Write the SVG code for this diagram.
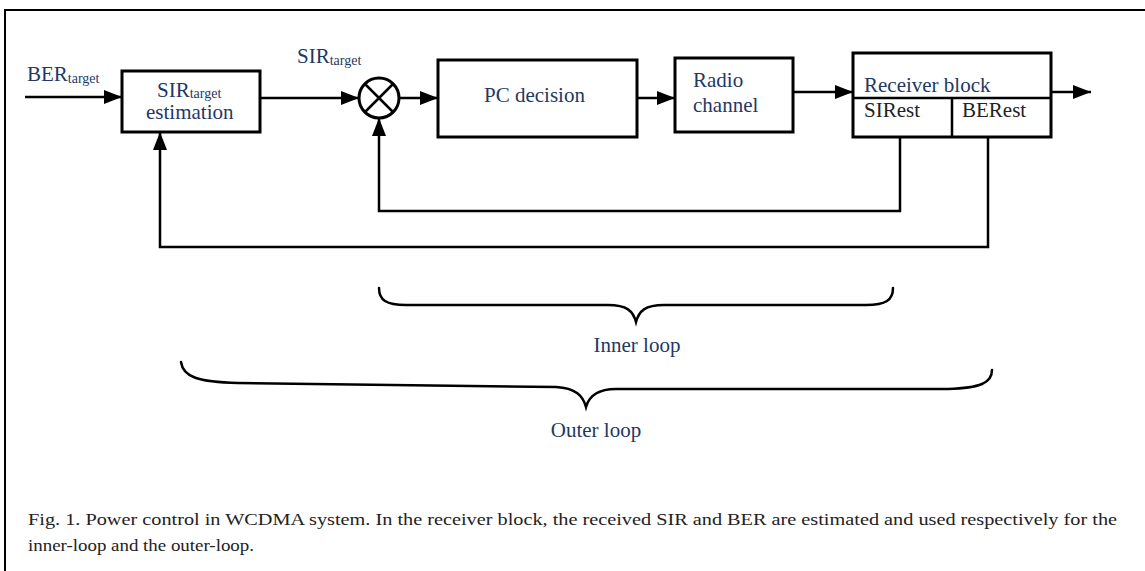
<svg xmlns="http://www.w3.org/2000/svg" width="1145" height="571" viewBox="0 0 1145 571">
<style>
.box{fill:none;stroke:#000;stroke-width:3}
.ln{fill:none;stroke:#000;stroke-width:2.5}
.br{fill:none;stroke:#000;stroke-width:2.5;stroke-linecap:round}
text{font-family:"Liberation Serif",Tinos,"Times New Roman",Times,serif}
.lbl{font-size:21px;fill:#1f3864}
.sub{font-size:14px}
.dk{font-size:21px;fill:#222}
.cap{font-size:16px;fill:#222}
</style>
<defs>
<marker id="ah" markerUnits="userSpaceOnUse" markerWidth="20" markerHeight="16" refX="18" refY="7" orient="auto">
<path d="M0,0 L18,7 L0,14 Z" fill="#000"/>
</marker>
</defs>
<rect width="1145" height="571" fill="#fff"/>
<path d="M5,571 V10 H1145" fill="none" stroke="#000" stroke-width="2"/>

<g id="ber-label">
<text class="lbl" x="27" y="81" font-family="Liberation Serif, serif">BER<tspan class="sub" dy="2">target</tspan></text>
</g>
<g id="sir-estimation">
<rect class="box" x="122" y="71" width="138" height="61"/>
<text class="lbl" x="157" y="97" font-family="Liberation Serif, serif">SIR<tspan class="sub" dy="1">target</tspan></text>
<text class="lbl" x="146" y="119" font-family="Liberation Serif, serif">estimation</text>
</g>
<g id="sir-target-label">
<text class="lbl" x="297" y="63" font-family="Liberation Serif, serif">SIR<tspan class="sub" dy="2">target</tspan></text>
</g>
<g id="summer">
<circle cx="379" cy="98" r="20" fill="none" stroke="#000" stroke-width="3"/>
<path d="M365,84 L393,112 M393,84 L365,112" stroke="#000" stroke-width="2.5"/>
</g>
<g id="pc-decision">
<rect class="box" x="438" y="60" width="199" height="77"/>
<text class="lbl" x="484" y="102" font-family="Liberation Serif, serif">PC decision</text>
</g>
<g id="radio-channel">
<rect class="box" x="675" y="58" width="118" height="74"/>
<text class="lbl" x="693" y="87" font-family="Liberation Serif, serif">Radio</text>
<text class="lbl" x="693" y="112" font-family="Liberation Serif, serif">channel</text>
</g>
<g id="receiver-block">
<rect class="box" x="853" y="53" width="198" height="84"/>
<path d="M853,98 H1051 M952,98 V137" stroke="#000" stroke-width="2.5"/>
<text class="lbl" x="864" y="92" font-family="Liberation Serif, serif">Receiver block</text>
<text class="dk" x="864" y="117" font-family="Liberation Serif, serif">SIRest</text>
<text class="dk" x="962" y="117" font-family="Liberation Serif, serif">BERest</text>
</g>

<g id="connectors">
<path class="ln" d="M25,97 H122" marker-end="url(#ah)"/>
<path class="ln" d="M260,98 H359" marker-end="url(#ah)"/>
<path class="ln" d="M399,98 H438" marker-end="url(#ah)"/>
<path class="ln" d="M637,98 H675" marker-end="url(#ah)"/>
<path class="ln" d="M793,92 H853" marker-end="url(#ah)"/>
<path class="ln" d="M1051,92 H1091" marker-end="url(#ah)"/>
<path class="ln" d="M900,137 V211 H379 V118" marker-end="url(#ah)"/>
<path class="ln" d="M988,137 V247 H160 V132" marker-end="url(#ah)"/>
</g>

<g id="inner-loop">
<path class="br" d="M379,288 C379,300 386,305 406,305 L608,305 C627,305 633,311 636,322 C639,311 645,305 664,305 L866,305 C886,305 893,300 893,288"/>
<text class="lbl" x="637" y="352" text-anchor="middle" font-family="Liberation Serif, serif">Inner loop</text>
</g>
<g id="outer-loop">
<path class="br" d="M181,362 C183,377 198,382 238,383 L556,387 C576,388 583,396 586,407 C589,396 597,389 616,389 L948,389 C980,388 992,383 992,370"/>
<text class="lbl" x="596" y="437" text-anchor="middle" font-family="Liberation Serif, serif">Outer loop</text>
</g>

<g id="caption">
<text class="cap" x="28" y="525" textLength="1089" lengthAdjust="spacingAndGlyphs" font-family="Liberation Serif, serif">Fig. 1. Power control in WCDMA system. In the receiver block, the received SIR and BER are estimated and used respectively for the</text>
<text class="cap" x="28" y="551" textLength="226" lengthAdjust="spacingAndGlyphs" font-family="Liberation Serif, serif">inner-loop and the outer-loop.</text>
</g>
</svg>
